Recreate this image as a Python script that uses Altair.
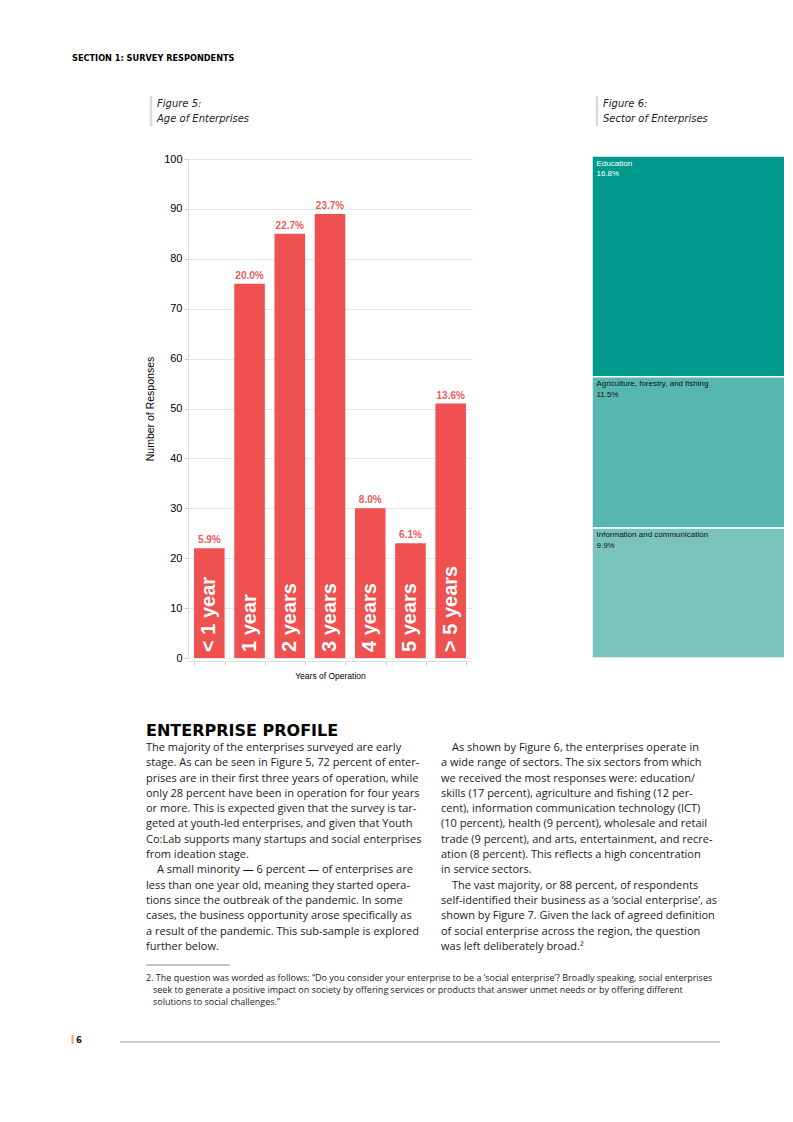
import altair as alt
import pandas as pd

# ---------------- data ----------------
ages = ["< 1 year", "1 year", "2 years", "3 years", "4 years", "5 years", "> 5 years"]
responses = [22, 75, 85, 89, 30, 23, 51]
y_ticks = [0, 10, 20, 30, 40, 50, 60, 70, 80, 90, 100]

sectors = ["Education", "Agriculture, forestry, and fishing", "Information and communication"]
sector_pct = [16.8, 11.5, 9.9]
sector_order = [1, 2, 3]

header_text = ["SECTION 1: SURVEY RESPONDENTS"]
fig5_caption = ["Figure 5:", "Age of Enterprises"]
fig6_caption = ["Figure 6:", "Sector of Enterprises"]
heading = ["ENTERPRISE PROFILE"]
left_para_1 = [
    "The majority of the enterprises surveyed are early",
    "stage. As can be seen in Figure 5, 72 percent of enter-",
    "prises are in their first three years of operation, while",
    "only 28 percent have been in operation for four years",
    "or more. This is expected given that the survey is tar-",
    "geted at youth-led enterprises, and given that Youth",
    "Co:Lab supports many startups and social enterprises",
    "from ideation stage.",
]
left_para_2 = [
    "A small minority \u2014 6 percent \u2014 of enterprises are",
    "less than one year old, meaning they started opera-",
    "tions since the outbreak of the pandemic. In some",
    "cases, the business opportunity arose specifically as",
    "a result of the pandemic. This sub-sample is explored",
    "further below.",
]
right_para_1 = [
    "As shown by Figure 6, the enterprises operate in",
    "a wide range of sectors. The six sectors from which",
    "we received the most responses were: education/",
    "skills (17 percent), agriculture and fishing (12 per-",
    "cent), information communication technology (ICT)",
    "(10 percent), health (9 percent), wholesale and retail",
    "trade (9 percent), and arts, entertainment, and recre-",
    "ation (8 percent). This reflects a high concentration",
    "in service sectors.",
]
right_para_2 = [
    "The vast majority, or 88 percent, of respondents",
    "self-identified their business as a \u2018social enterprise\u2019, as",
    "shown by Figure 7. Given the lack of agreed definition",
    "of social enterprise across the region, the question",
    "was left deliberately broad.\u00b2",
]
footnote_1 = ["2. The question was worded as follows: \u201cDo you consider your enterprise to be a \u2018social enterprise\u2019? Broadly speaking, social enterprises"]
footnote_2 = [
    "seek to generate a positive impact on society by offering services or products that answer unmet needs or by offering different",
    "solutions to social challenges.\u201d",
]
page_number = ["6"]

# ---------------- styles ----------------
BAR_RED = "#EF5050"
TEAL = ["#009A8C", "#56B6B0", "#79C3BC"]
ARIAL = "Liberation Sans, Arial, sans-serif"
BODY = "Open Sans, sans-serif"
WIDE = "DejaVu Sans, sans-serif"
W, H = 776, 1080
LH = 15.3


def text_layer(lines, x, y, size, weight="normal", style="normal", font=BODY,
               color="#1a1a1a", line_height=None):
    df = pd.DataFrame({"t": ["\n".join(lines)]})
    return alt.Chart(df).mark_text(
        align="left", baseline="alphabetic", font=font, fontSize=size,
        fontWeight=weight, fontStyle=style, color=color, lineBreak="\n",
        lineHeight=line_height or size * 1.3,
    ).encode(text="t:N", x=alt.value(x), y=alt.value(y))


def paragraph(lines, x, y, indent):
    layers = [text_layer(lines[:1], x + indent, y, 11, line_height=LH)]
    if len(lines) > 1:
        layers.append(text_layer(lines[1:], x, y + LH, 11, line_height=LH))
    return layers


def rule(x, x2, y, y2, color, width):
    df = pd.DataFrame({"k": [0]})
    return alt.Chart(df).mark_rule(color=color, strokeWidth=width).encode(
        x=alt.value(x), x2=alt.value(x2), y=alt.value(y), y2=alt.value(y2))


# ---------------- bar chart (Figure 5) ----------------
bar_df = pd.DataFrame({"age": ages, "n": responses})
bar_base = alt.Chart(bar_df).transform_joinaggregate(total="sum(n)").transform_calculate(
    pct="format(datum.n / datum.total * 100, '.1f') + '%'"
)
x_enc = alt.X(
    "age:N", sort=ages,
    scale=alt.Scale(range=[180, 464], paddingInner=0.24, paddingOuter=0.15),
    axis=alt.Axis(
        labels=False, ticks=True, tickBand="extent", tickSize=4, tickColor="#cccccc",
        domain=True, domainColor="#dddddd", grid=False, offset=653 - H,
        title="Years of Operation", titleFont=ARIAL, titleFontSize=8.5,
        titleFontWeight="normal", titleColor="#000000", titlePadding=6,
    ),
)
y_enc = alt.Y(
    "n:Q",
    scale=alt.Scale(domain=[0, 100], range=[650, 151], nice=False),
    axis=alt.Axis(
        values=y_ticks, grid=True, gridColor="#e6e6e6", domain=True, domainColor="#dddddd",
        tickSize=4, tickColor="#cccccc", labelFont=ARIAL, labelFontSize=11,
        labelColor="#000000", labelPadding=2, offset=-180,
        title="Number of Responses", titleFont=ARIAL, titleFontSize=10.5,
        titleFontWeight="normal", titleColor="#000000", titlePadding=8,
    ),
)
bars = bar_base.mark_bar(color=BAR_RED).encode(x=x_enc, y=y_enc)
bar_pct = bar_base.mark_text(
    font=ARIAL, fontSize=10, fontWeight="bold", color="#F05A5A",
    align="center", baseline="alphabetic", dy=-5,
).encode(x=alt.X("age:N", sort=ages), y="n:Q", text="pct:N")
bar_names = bar_base.mark_text(
    font=ARIAL, fontSize=20, fontWeight="bold", color="white", angle=270,
    align="left", baseline="middle", dx=6,
).encode(x=alt.X("age:N", sort=ages), y=alt.datum(0), text="age:N")
fig5 = alt.layer(bars, bar_pct, bar_names)

# ---------------- treemap column (Figure 6) ----------------
tm_df = pd.DataFrame({"sector": sectors, "pct": sector_pct, "order": sector_order})
tm_base = alt.Chart(tm_df).transform_window(
    y1="sum(pct)", sort=[alt.SortField("order")], frame=[None, 0]
).transform_calculate(
    y0="datum.y1 - datum.pct", label="format(datum.pct, '.1f') + '%'"
)
tm_y = alt.Scale(domain=[0, sum(sector_pct)], range=[148, 650], nice=False, zero=False)
tm_rect = tm_base.mark_rect(stroke="white", strokeWidth=1.5).encode(
    x=alt.value(584), x2=alt.value(W + 2),
    y=alt.Y("y0:Q", scale=tm_y, axis=None), y2="y1:Q",
    color=alt.Color("sector:N", scale=alt.Scale(domain=sectors, range=TEAL), legend=None),
)
txt_color = alt.condition("datum.order == 1", alt.value("#ffffff"), alt.value("#111111"))
tm_name = tm_base.mark_text(
    font=ARIAL, fontSize=8, align="left", baseline="alphabetic", dy=9.5
).encode(x=alt.value(588.5), y=alt.Y("y0:Q", scale=tm_y, axis=None), text="sector:N", color=txt_color)
tm_val = tm_base.mark_text(
    font=ARIAL, fontSize=8, align="left", baseline="alphabetic", dy=20
).encode(x=alt.value(588.5), y=alt.Y("y0:Q", scale=tm_y, axis=None), text="label:N", color=txt_color)
fig6 = alt.layer(tm_rect, tm_name, tm_val)

# ---------------- page texts ----------------
page_layers = [
    text_layer(header_text, 64, 53, 8.2, weight="bold", font=WIDE, color="#000000"),
    rule(143, 143, 88, 118, "#d9d9d9", 2.5),
    text_layer(fig5_caption, 149, 99, 10, style="italic", font=WIDE, color="#222222", line_height=15),
    rule(589, 589, 88, 118, "#d9d9d9", 2.5),
    text_layer(fig6_caption, 595, 99, 10, style="italic", font=WIDE, color="#222222", line_height=15),
    text_layer(heading, 138, 728, 16, weight="bold", font=WIDE, color="#000000"),
    *paragraph(left_para_1, 138, 743, 0),
    *paragraph(left_para_2, 138, 743 + LH * len(left_para_1), 11),
    *paragraph(right_para_1, 433, 743, 11),
    *paragraph(right_para_2, 433, 743 + LH * len(right_para_1), 11),
    rule(138, 222, 957, 957, "#888888", 1),
    text_layer(footnote_1, 138, 973, 9),
    text_layer(footnote_2, 145, 985, 9, line_height=12),
    rule(64.5, 64.5, 1027, 1036, "#F4A261", 2),
    text_layer(page_number, 68, 1035, 8.5, weight="bold", font=WIDE, color="#111111"),
    rule(112, 712, 1034, 1034, "#bbbbbb", 1.5),
]

chart = alt.layer(fig5, fig6, *page_layers).resolve_scale(
    x="independent", y="independent", color="independent"
).properties(
    width=W, height=H, autosize=alt.AutoSizeParams(type="none"), padding=0
).configure_view(stroke=None)

chart.save("out.html", embed_options={"renderer": "svg", "actions": False})
